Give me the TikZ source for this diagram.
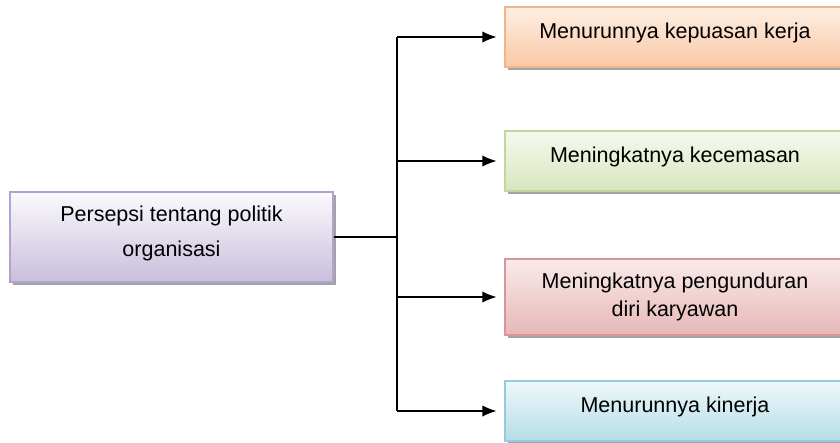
\documentclass[tikz,border=0pt]{standalone}
\usepackage{fontspec}
\setmainfont{Liberation Sans}
\usetikzlibrary{arrows.meta,shadows}
\definecolor{lilaT}{HTML}{FBFAFD}
\definecolor{lilaB}{HTML}{C9BEDC}
\definecolor{lilaD}{HTML}{B3A2CF}
\definecolor{oranT}{HTML}{FEEFE4}
\definecolor{oranB}{HTML}{F9C8A4}
\definecolor{oranD}{HTML}{F2B48B}
\definecolor{hijaT}{HTML}{F6F9EE}
\definecolor{hijaB}{HTML}{D8E5BE}
\definecolor{hijaD}{HTML}{C3D69C}
\definecolor{merhT}{HTML}{FAEAEA}
\definecolor{merhB}{HTML}{E6B8B7}
\definecolor{merhD}{HTML}{D99695}
\definecolor{biruT}{HTML}{EEF8FA}
\definecolor{biruB}{HTML}{B5DDE8}
\definecolor{biruD}{HTML}{93CDDD}

\begin{document}
\begin{tikzpicture}[x=0.025cm, y=-0.025cm,
	kotak/.style={draw, line width=1pt, align=center, inner sep=2pt,
		font=\fontsize{15.3}{20}\selectfont,
		drop shadow={shadow xshift=2.2pt, shadow yshift=-2.2pt, fill=black!45, opacity=0.8}},
	naik/.style={text depth=0.3cm},
	hasil/.style={kotak, minimum width=8.5cm},
	garis/.style={line width=0.9pt},
	panah/.style={garis, -{Latex[length=10pt,width=8pt]}, shorten >=5.5pt}]
	\useasboundingbox (0,0) rectangle (840,442);
	\node[kotak, naik, minimum width=8.075cm, minimum height=2.25cm, top color=lilaT, bottom color=lilaB, draw=lilaD,
		font=\fontsize{15.3}{25}\selectfont] (persepsi) at (171.5,237) {Persepsi tentang politik\\organisasi};
	\node[hasil, naik, minimum height=1.5cm, top color=oranT, bottom color=oranB, draw=oranD] (kepuasan) at (675,37) {Menurunnya kepuasan kerja};
	\node[hasil, naik, minimum height=1.5cm, top color=hijaT, bottom color=hijaB, draw=hijaD] (cemas) at (675,161) {Meningkatnya kecemasan};
	\node[hasil, minimum height=1.9cm, top color=merhT, bottom color=merhB, draw=merhD] (mundur) at (675,297) {Meningkatnya pengunduran\\diri karyawan};
	\node[hasil, naik, minimum height=1.5cm, top color=biruT, bottom color=biruB, draw=biruD] (kinerja) at (675,411) {Menurunnya kinerja};
	\coordinate (cabang) at (397,0);
	\draw[garis] (persepsi.east) -- (persepsi.east -| cabang);
	\draw[garis] (kepuasan.west -| cabang) -- (kinerja.west -| cabang);
	\draw[panah] (kepuasan.west -| cabang) -- (kepuasan.west);
	\draw[panah] (cemas.west -| cabang) -- (cemas.west);
	\draw[panah] (mundur.west -| cabang) -- (mundur.west);
	\draw[panah] (kinerja.west -| cabang) -- (kinerja.west);
\end{tikzpicture}
\end{document}
